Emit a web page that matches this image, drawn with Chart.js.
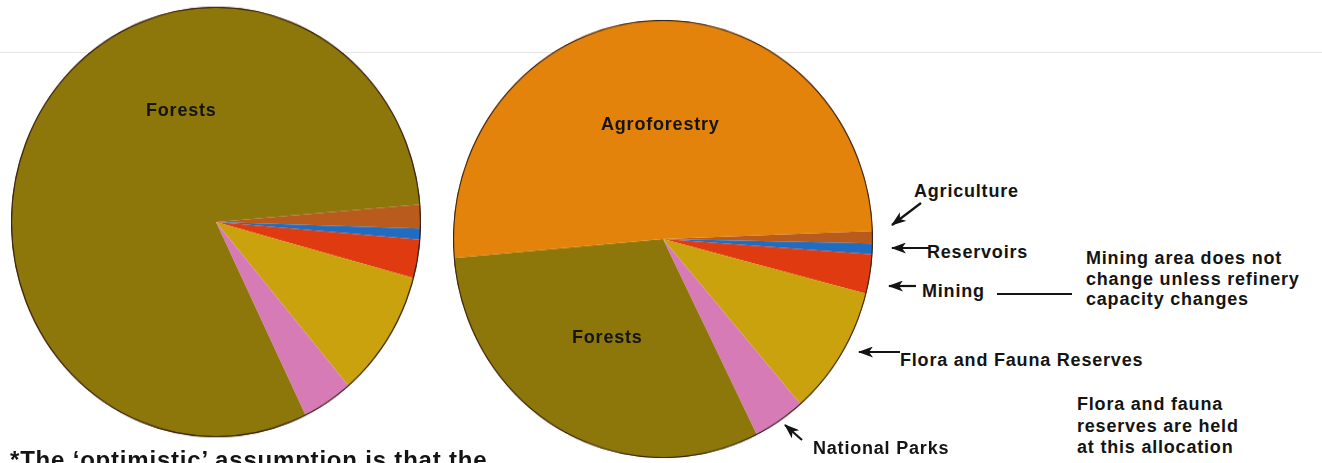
<!DOCTYPE html>
<html>
<head>
<meta charset="utf-8">
<script src="https://cdn.jsdelivr.net/npm/chart.js@4.4.1/dist/chart.umd.min.js"></script>
<style>
  body { margin: 0; width: 1322px; height: 463px; overflow: hidden; background: #fff; position: relative;
         font-family: "Liberation Sans", Arial, sans-serif; font-weight: bold; color: #141414; }
  .rule { position: absolute; left: 0; top: 52px; width: 1322px; height: 1px; background: #e6e6e6; }
  .pie { position: absolute; transform-origin: 50% 50%; }
  .lbl { position: absolute; font-size: 18px; line-height: 18px; letter-spacing: 0.8px; white-space: nowrap; }
  svg { position: absolute; left: 0; top: 0; }
</style>
</head>
<body>
<div class="rule"></div>

<div class="pie" style="left:11px;top:17px;width:410px;height:410px;transform:scaleY(1.05)">
  <canvas id="beforeChart" width="410" height="410"></canvas>
</div>
<div class="pie" style="left:453px;top:29px;width:420px;height:420px;transform:scaleY(1.043)">
  <canvas id="afterChart" width="420" height="420"></canvas>
</div>

<div class="lbl" style="left:146px;top:101px">Forests</div>
<div class="lbl" style="left:601px;top:115px">Agroforestry</div>
<div class="lbl" style="left:572px;top:328px">Forests</div>

<div class="lbl" style="left:914px;top:182px">Agriculture</div>
<div class="lbl" style="left:927px;top:243px">Reservoirs</div>
<div class="lbl" style="left:922px;top:282px">Mining</div>
<div class="lbl" style="left:900px;top:351px">Flora and Fauna Reserves</div>
<div class="lbl" style="left:813px;top:439px">National Parks</div>

<div class="lbl" style="left:1086px;top:248px;line-height:20.5px">Mining area does not<br>change unless refinery<br>capacity changes</div>
<div class="lbl" style="left:1077px;top:394px;line-height:21.5px">Flora and fauna<br>reserves are held<br>at this allocation</div>

<div class="lbl" style="left:10px;top:448px;font-size:24px;line-height:24px;letter-spacing:0.8px">*The ‘optimistic’ assumption is that the</div>

<svg width="1322" height="463">
  <defs>
    <marker id="head" markerUnits="userSpaceOnUse" markerWidth="15" markerHeight="11" refX="14" refY="5.5" orient="auto">
      <path d="M15,5.5 L0,0 L4,5.5 L0,11 Z" fill="#141414"/>
    </marker>
  </defs>
  <g stroke="#141414" stroke-width="2.2" fill="none">
    <line x1="921" y1="203" x2="892" y2="225" marker-end="url(#head)"/>
    <line x1="929" y1="248" x2="892" y2="248" marker-end="url(#head)"/>
    <line x1="916" y1="286" x2="889" y2="286" marker-end="url(#head)"/>
    <line x1="997" y1="294" x2="1072" y2="294"/>
    <line x1="900" y1="352" x2="859" y2="352" marker-end="url(#head)"/>
    <line x1="802" y1="440" x2="785" y2="425" marker-end="url(#head)"/>
  </g>
</svg>

<script>
// land allocation, percent of area
const categoriesBefore = ['Agriculture', 'Reservoirs', 'Mining', 'Flora and Fauna Reserves', 'National Parks', 'Forests'];
const valuesBefore = [1.8, 0.8, 2.9, 9.6, 4.0, 80.9];

const categoriesAfter = ['Agriculture', 'Reservoirs', 'Mining', 'Flora and Fauna Reserves', 'National Parks', 'Forests', 'Agroforestry'];
const valuesAfter = [0.9, 0.8, 2.9, 9.6, 4.0, 31.0, 50.8];

const colourOf = {
    'Agriculture': '#b95b1d',
    'Reservoirs': '#1f6dc2',
    'Mining': '#e03a10',
    'Flora and Fauna Reserves': '#caa20d',
    'National Parks': '#d77bb6',
    'Forests': '#8d760a',
    'Agroforestry': '#e3830b'
};

// thin dark rim round each pie
const rim = {
    id: 'rim',
    afterDatasetsDraw(chart) {
        const arc = chart.getDatasetMeta(0).data[0];
        const ctx = chart.ctx;
        ctx.save();
        ctx.beginPath();
        ctx.arc(arc.x, arc.y, arc.outerRadius - 0.5, 0, Math.PI * 2);
        ctx.strokeStyle = '#3c2418';
        ctx.lineWidth = 1.2;
        ctx.stroke();
        ctx.restore();
    }
};

function makePie(id, labels, values, rotation) {
    const ctx = document.getElementById(id).getContext('2d');
    new Chart(ctx, {
        type: 'pie',
        data: {
            labels: labels,
            datasets: [{
                data: values,
                backgroundColor: labels.map(l => colourOf[l]),
                borderWidth: 0,
                hoverOffset: 0
            }]
        },
        options: {
            responsive: false,
            animation: false,
            events: [],
            rotation: rotation,
            plugins: { legend: { display: false }, tooltip: { enabled: false } }
        },
        plugins: [rim]
    });
}

makePie('beforeChart', categoriesBefore, valuesBefore, 85.3);
makePie('afterChart', categoriesAfter, valuesAfter, 87.9);
</script>
</body>
</html>
